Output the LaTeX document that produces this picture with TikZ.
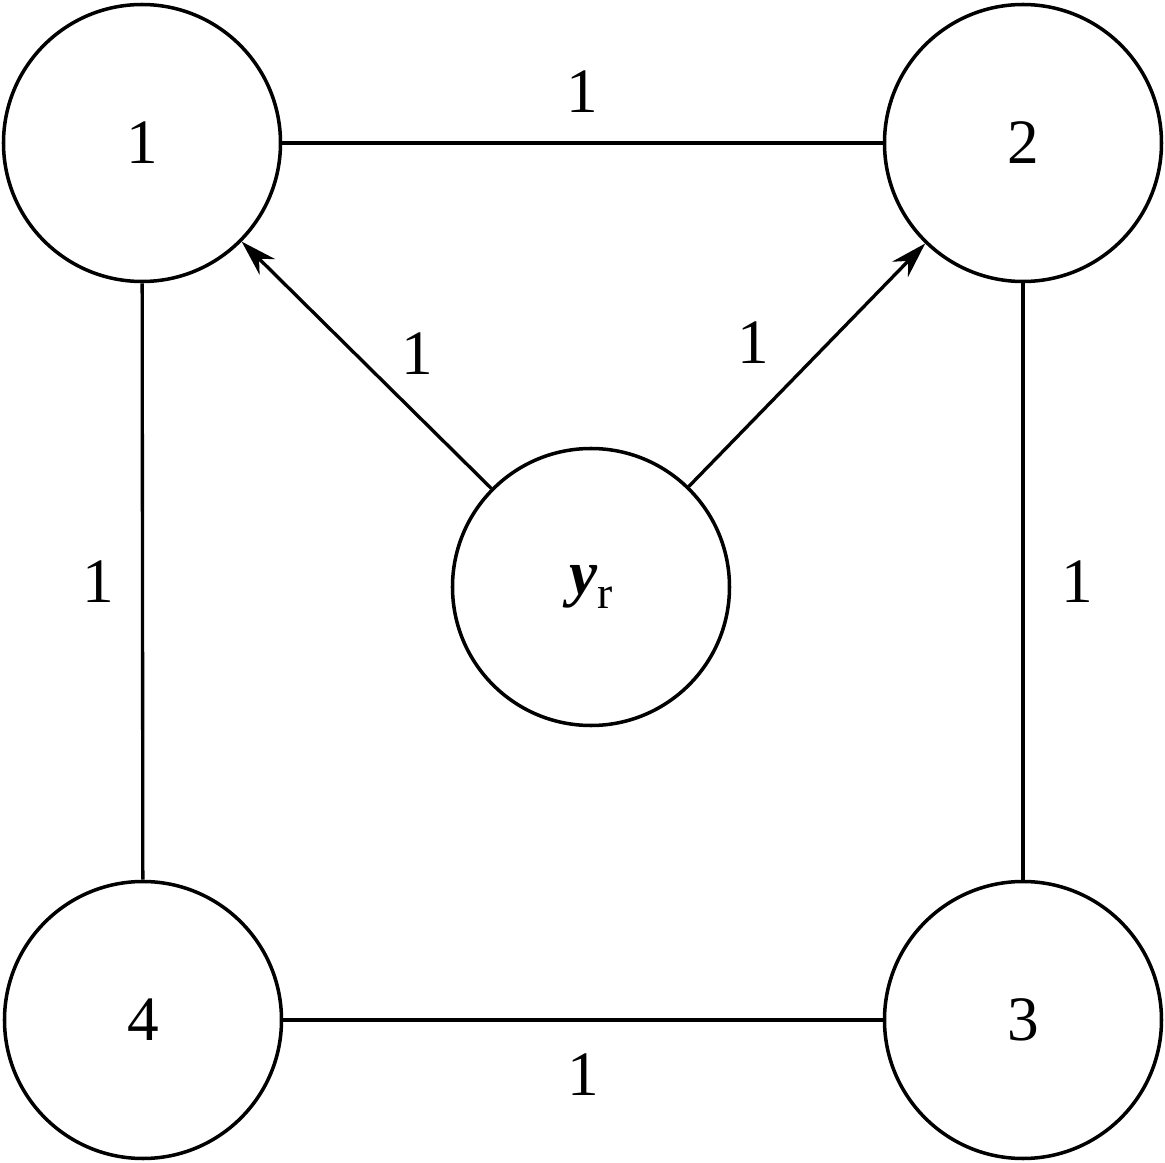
\documentclass[tikz,border=0pt]{standalone}
\usepackage{fontspec}
\setmainfont{Liberation Serif}
\usetikzlibrary{arrows.meta}

\begin{document}
\begin{tikzpicture}[
    vertex/.style={draw,circle,line width=1pt,minimum size=2.77cm,inner sep=0pt,font=\fontsize{18}{20}\selectfont},
    edge/.style={line width=.95pt},
    wt/.style={font=\fontsize{18}{20}\selectfont}]
  \useasboundingbox (0,0) rectangle (11.65,11.62);
  \node (v1) [vertex] at (1.42,10.19) {1};
  \node (v2) [vertex] at (10.23,10.19) {2};
  \node (v3) [vertex] at (10.23,1.42) {3};
  \node (v4) [vertex] at (1.43,1.42) {4};
  \node (yr) [vertex] at (5.91,5.75) {\textbf{\textit{y}}\raisebox{-.5ex}{\fontsize{13}{14}\selectfont r}};

  \draw[edge] (v1) -- (v2) node [wt,midway,above=.17cm] {1};
  \draw[edge] (v4) -- (v3) node [wt,midway,below=.2cm] {1};
  \draw[edge] (v1) -- (v4) node [wt,midway,left=.15cm] {1};
  \draw[edge] (v2) -- (v3) node [wt,midway,right=.25cm] {1};
  \draw[edge,-{Stealth[length=.36cm,width=.22cm]}] (yr) -- (v1) node [wt,midway,xshift=.51cm,yshift=.11cm] {1};
  \draw[edge,-{Stealth[length=.36cm,width=.22cm]}] (yr) -- (v2) node [wt,midway,xshift=-.54cm,yshift=.22cm] {1};
\end{tikzpicture}
\end{document}
